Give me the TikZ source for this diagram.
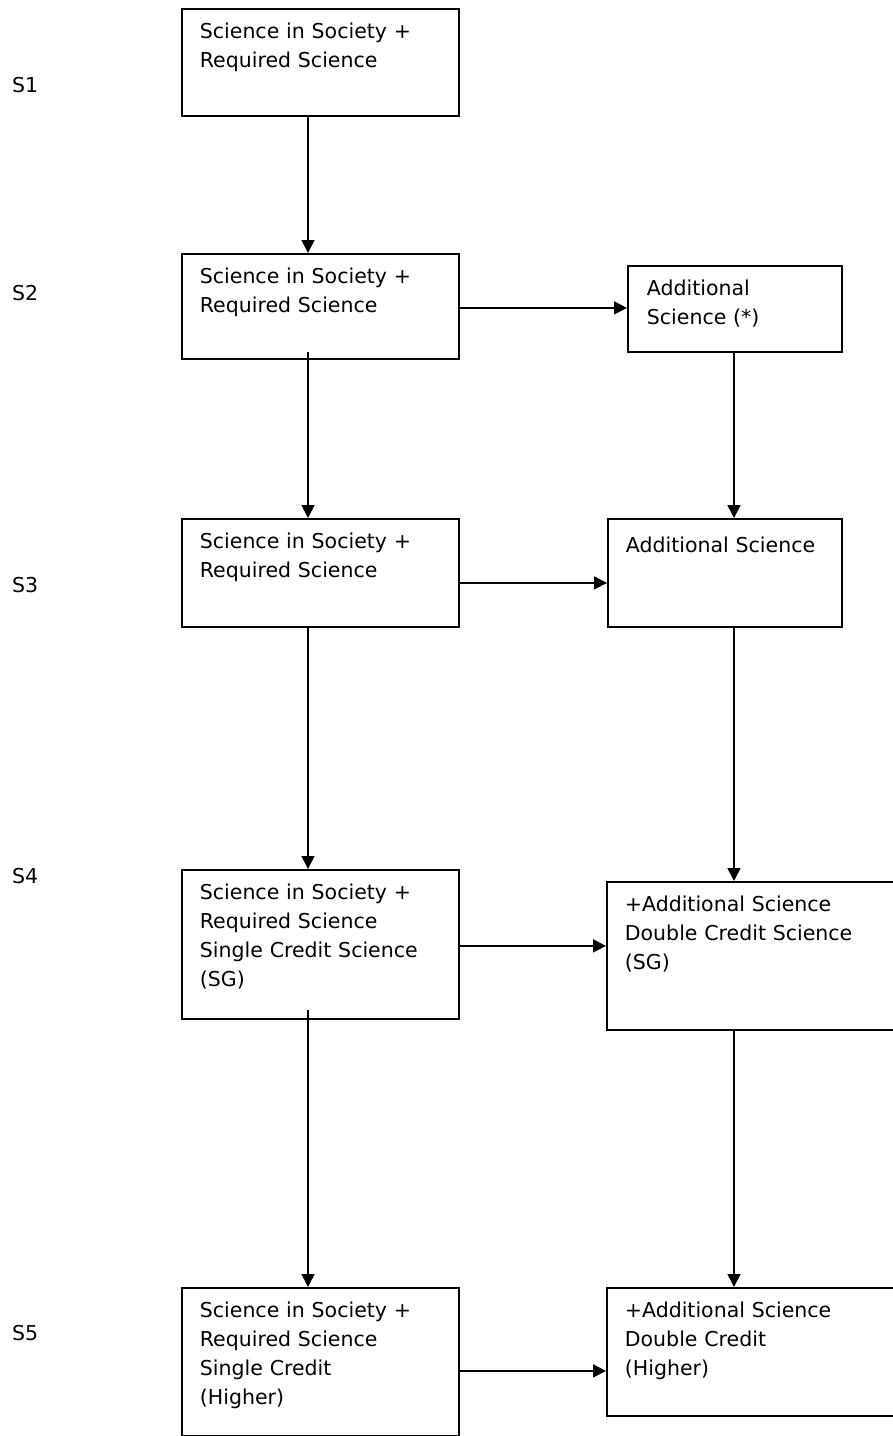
\documentclass[tikz,border=0pt]{standalone}
\usepackage{fontspec}
\setmainfont{DejaVu Sans}
\usepackage{tikz}
\usetikzlibrary{arrows.meta,positioning}

\begin{document}
\begin{tikzpicture}[x=1pt, y=-1pt,
    stagebox/.style={draw, line width=1.8pt, anchor=north west, inner xsep=18pt, inner ysep=0pt,
      align=left, text height=30pt, font=\fontsize{20.5}{29}\selectfont},
    stagelabel/.style={anchor=base west, inner sep=0pt, font=\fontsize{20.5}{29}\selectfont},
    flow/.style={line width=1.6pt, -{Triangle[length=13pt,width=13pt]}}]
        \useasboundingbox (0,0) rectangle (893,1436);
        \coordinate (colL) at (308,0);
        \coordinate (colR) at (734,0);
        \node[stagelabel] (lab1) at (12,92) {S1};
        \node[stagelabel] (lab2) at (12,300) {S2};
        \node[stagelabel] (lab3) at (12,592) {S3};
        \node[stagelabel] (lab4) at (12,883) {S4};
        \node[stagelabel] (lab5) at (12,1340) {S5};
        \node[stagebox, text width=241pt, text depth=77pt] (s1l) at (181,8) {Science in Society +\\Required Science};
        \node[stagebox, text width=241pt, text depth=75pt] (s2l) at (181,253) {Science in Society +\\Required Science};
        \node[stagebox, text width=241pt, text depth=78pt] (s3l) at (181,518) {Science in Society +\\Required Science};
        \node[stagebox, text width=241pt, text depth=119pt] (s4l) at (181,869) {Science in Society +\\Required Science\\Single Credit Science\\(SG)};
        \node[stagebox, text width=241pt, text depth=118pt] (s5l) at (181,1287) {Science in Society +\\Required Science\\Single Credit\\(Higher)};
        \node[stagebox, inner xsep=19pt, text width=176pt, text depth=56pt] (a1) at (627,265) {Additional\\Science (*)};
        \node[stagebox, text width=198pt, text height=34pt, text depth=74pt] (a2) at (607,518) {Additional Science};
        \node[stagebox, text width=259pt, text depth=118pt] (b4) at (606,881) {+Additional Science\\Double Credit Science\\(SG)};
        \node[stagebox, text width=259pt, text depth=98pt] (b5) at (606,1287) {+Additional Science\\Double Credit\\(Higher)};
        \draw[flow] (s1l.south -| colL) -- (s2l.north -| colL);
        \draw[flow] ([yshift=8pt]s2l.south -| colL) -- (s3l.north -| colL);
        \draw[flow] (s3l.south -| colL) -- (s4l.north -| colL);
        \draw[flow] ([yshift=10pt]s4l.south -| colL) -- (s5l.north -| colL);
        \draw[flow] (a1.south -| colR) -- (a2.north -| colR);
        \draw[flow] (a2.south -| colR) -- (b4.north -| colR);
        \draw[flow] (b4.south -| colR) -- (b5.north -| colR);
        \draw[flow] ([yshift=-1.5pt]s2l.east) -- ([yshift=-1.5pt]s2l.east -| a1.west);
        \draw[flow] ([yshift=-10pt]s3l.east) -- ([yshift=-10pt]s3l.east -| a2.west);
        \draw[flow] ([yshift=-1.5pt]s4l.east) -- ([yshift=-1.5pt]s4l.east -| b4.west);
        \draw[flow] ([yshift=-9pt]s5l.east) -- ([yshift=-9pt]s5l.east -| b5.west);
      \end{tikzpicture}
\end{document}
